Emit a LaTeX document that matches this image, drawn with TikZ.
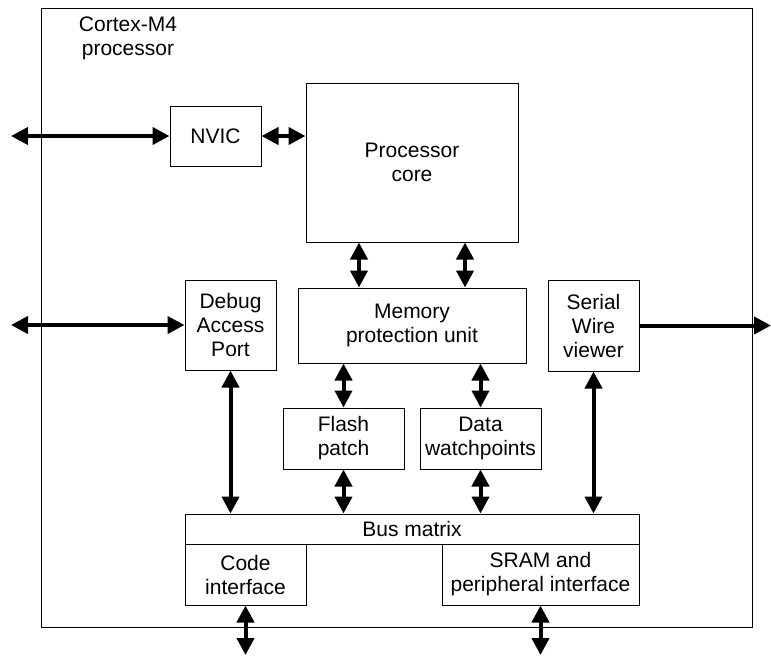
\documentclass[tikz,border=0pt]{standalone}
\usepackage{fontspec}
\setmainfont{Liberation Sans}
\usetikzlibrary{arrows.meta,positioning}

\begin{document}
\begin{tikzpicture}[x=1pt, y=-1pt, line width=1pt,
    blk/.style = {draw, rectangle, align=center, inner sep=0pt, font=\fontsize{21}{24}\selectfont},
    link/.style = {line width=4pt, {Triangle[length=17pt,width=17pt]}-{Triangle[length=17pt,width=17pt]}},
    outlink/.style = {line width=4pt, -{Triangle[length=17pt,width=17pt]}}]
    \useasboundingbox (0,0) rectangle (771,656);

    % processor frame
    \node[blk, minimum width=711pt, minimum height=619pt] (chip) at (396.5,317.5) {};
    \node[blk, draw=none] (title) at (128,38) {Cortex-M4\\processor};

    % blocks
    \node[blk, minimum width=91pt, minimum height=60pt] (nvic) at (215.5,136) {NVIC};
    \node[blk, minimum width=212pt, minimum height=159pt] (core) at (412,162.5) {Processor\\core};
    \node[blk, minimum width=91pt, minimum height=90pt] (dap) at (230.5,325) {Debug\\Access\\Port};
    \node[blk, minimum width=228pt, minimum height=75pt] (mpu) at (412,325.5) {Memory\\protection unit};
    \node[blk, minimum width=91pt, minimum height=91pt] (swv) at (593.5,325.5) {Serial\\Wire\\viewer};
    \node[blk, minimum width=121pt, minimum height=61pt] (flash) at (343.5,438.5) {Flash\\patch};
    \node[blk, minimum width=121pt, minimum height=61pt] (dwt) [right=15pt of flash] {Data\\watchpoints};
    \node[blk, minimum width=454pt, minimum height=30pt] (bus) at (412,529) {Bus matrix};
    \node[blk, minimum width=121pt, minimum height=61pt] (code) at (245.5,574.5) {Code\\interface};
    \node[blk, minimum width=197pt, minimum height=61pt] (sram) at (540.5,574.5) {SRAM and\\peripheral interface};

    % free ends
    \coordinate (irq) at (11,136);
    \coordinate (dbg) at (11,325);
    \coordinate (trace) at (771,325.5);
    \coordinate (codebus) at (245.5,655);
    \coordinate (sysbus) at (540.5,655);

    % connections
    \draw[link] (irq) -- (nvic.west);
    \draw[link] (nvic.east) -- (nvic.east -| core.west);
    \draw[link] ([xshift=-53pt]core.south) -- ([xshift=-53pt]core.south |- mpu.north);
    \draw[link] ([xshift=53pt]core.south) -- ([xshift=53pt]core.south |- mpu.north);
    \draw[link] (flash.north |- mpu.south) -- (flash.north);
    \draw[link] (dwt.north |- mpu.south) -- (dwt.north);
    \draw[link] (flash.south) -- (flash.south |- bus.north);
    \draw[link] (dwt.south) -- (dwt.south |- bus.north);
    \draw[link] (dbg) -- (dap.west);
    \draw[link] (dap.south) -- (dap.south |- bus.north);
    \draw[outlink] (swv.east) -- (trace);
    \draw[link] (swv.south) -- (swv.south |- bus.north);
    \draw[link] (code.south) -- (codebus);
    \draw[link] (sram.south) -- (sysbus);
\end{tikzpicture}
\end{document}
